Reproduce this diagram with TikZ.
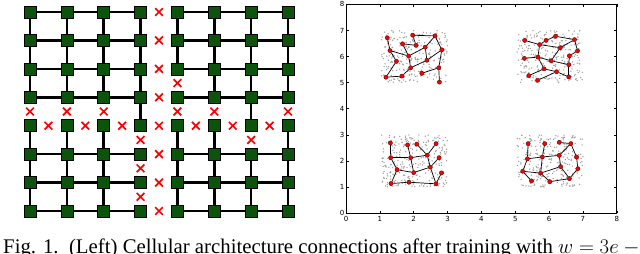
\documentclass[tikz,border=0pt]{standalone}
\usepackage{fontspec}
\setmainfont{Liberation Serif}
\newfontfamily\tickfont{DejaVu Sans}
\usepackage{tikz}
\usetikzlibrary{calc,shapes.misc}
\definecolor{cellgreen}{RGB}{12,84,12}
\tikzset{
  cellbox/.style={draw=black,fill=cellgreen,minimum size=12pt,inner sep=0pt,line width=0.6pt},
  cellwire/.style={line width=2.6pt,black},
  cutmark/.style={cross out,draw=red,minimum size=6pt,inner sep=0pt,line width=1.7pt},
  unitdot/.style={circle,fill=red,draw=red!35!black,inner sep=0pt,minimum size=4.2pt,line width=0.4pt},
  unitlink/.style={black,line width=0.7pt},
  ticklabel/.style={font=\tickfont\fontsize{7}{7}\selectfont,inner sep=1pt},
  captiontext/.style={font=\fontsize{20.8}{22}\selectfont,inner sep=0pt,anchor=base west}
}

\begin{document}
\begin{tikzpicture}[x=1pt,y=-1pt]
  \useasboundingbox (0,0) rectangle (640,254);
  % cellular grid (left)
  \foreach \i in {1,...,8}
    \foreach \j in {1,...,8}
      \node[cellbox] (c\i\j) at ({30+(\i-1)*36.86},{12+(\j-1)*28.43}) {};
  \foreach \j in {1,2,3,4,6,7,8}
    \foreach \i/\k in {1/2,2/3,3/4,5/6,6/7,7/8}
      \draw[cellwire] (c\i\j) -- (c\k\j);
  \foreach \i/\j [evaluate=\j as \k using int(\j+1)] in
      {1/1,2/1,3/1,4/1,1/2,2/2,3/2,4/2,1/3,2/3,3/3,4/3,4/4,
       1/5,2/5,3/5,1/6,2/6,3/6,1/7,2/7,3/7,
       5/1,6/1,7/1,8/1,5/2,6/2,7/2,8/2,6/3,7/3,8/3,7/4,
       5/5,6/5,8/5,5/6,6/6,7/6,8/6,5/7,6/7,7/7,8/7}
    \draw[cellwire] (c\i\j) -- (c\i\k);
  % pruned connections
  \foreach \j in {1,...,8}
    \node[cutmark] (mid\j) at ($(c4\j)!0.5!(c5\j)$) {};
  \foreach \i/\k in {1/2,2/3,3/4,5/6,6/7,7/8}
    \node[cutmark] (row\i) at ($(c\i5)!0.5!(c\k5)$) {};
  \foreach \i/\j [evaluate=\j as \k using int(\j+1)] in
      {1/4,2/4,3/4,4/5,4/6,4/7,5/3,5/4,6/4,8/4,7/5}
    \node[cutmark] (col\i\j) at ($(c\i\j)!0.5!(c\i\k)$) {};

  % scatter plot (right)
  \begin{scope}[shift={(346pt,-213pt)},x=33.85pt,y=26.07pt]
    \pgfmathsetseed{7}
    \foreach \cx/\cy in {1/5,5/5,1/1,5/1}
      \foreach \n in {1,...,260}
        \fill[gray!75] ({\cx+0.05+1.95*rnd},{\cy+2*rnd}) circle (0.75pt);
    \draw[line width=0.8pt] (0,0) rectangle (8,8);
    \foreach \t in {0,...,8} {
      \draw[line width=0.5pt] (\t,0) -- ++(0,2.5pt) (\t,8) -- ++(0,-2.5pt);
      \draw[line width=0.5pt] (0,\t) -- ++(2.5pt,0) (8,\t) -- ++(-2.5pt,0);
      \node[ticklabel,below=2.5pt] (xt\t) at (\t,0) {\t};
      \node[ticklabel,left=0.5pt] (yt\t) at (0,\t) {\t};
    }
    % top left cluster
    \foreach \u/\px/\py in {tla/1.22/6.72,tlb/1.97/6.82,tlc/2.63/6.79,tld/1.67/6.49,
        tle/2.07/6.43,tlf/2.34/6.36,tlg/1.30/6.23,tlh/2.83/6.26,tli/1.85/6.02,
        tlj/1.49/5.82,tlk/2.39/5.86,tll/1.91/5.57,tlm/2.74/5.57,tln/2.24/5.36,
        tlo/1.18/5.21,tlp/1.65/5.25,tlq/2.76/5.02}
      \node[unitdot] (\u) at (\px,\py) {};
    \foreach \a/\b in {tla/tlg,tlg/tlj,tlj/tlo,tlo/tlp,tlp/tll,tll/tli,tli/tld,
        tld/tle,tle/tlb,tlb/tlc,tlc/tlf,tlc/tlh,tlh/tlk,tlk/tlf,tlk/tll,tlg/tli,
        tlh/tlm,tlm/tlq,tlm/tln,tli/tlf}
      \draw[unitlink] (\a) -- (\b);
    % top right cluster
    \foreach \u/\px/\py in {tra/5.28/6.62,trb/5.72/6.46,trc/5.91/6.62,trd/6.19/6.78,
        tre/6.75/6.65,trf/6.33/6.34,trg/6.84/6.22,trh/5.27/5.93,tri/5.67/5.98,
        trj/6.60/6.03,trk/6.06/5.84,trl/6.58/5.69,trm/5.85/5.53,trn/6.22/5.42,
        tro/5.40/5.27,trp/5.66/5.09,trq/6.58/5.22}
      \node[unitdot] (\u) at (\px,\py) {};
    \foreach \a/\b in {tra/trb,trb/trc,trc/trd,trd/tre,tre/trg,trb/trf,trf/tre,
        trb/tri,trh/tri,tri/trk,trk/trl,trj/trg,trj/trl,tri/trm,trm/tro,trm/trn,
        trn/trp,trn/trq,trq/trl,trf/trk}
      \draw[unitlink] (\a) -- (\b);
    % bottom left cluster
    \foreach \u/\px/\py in {bla/1.31/2.69,blb/1.82/2.61,blc/2.09/2.64,bld/2.66/2.66,
        ble/1.32/2.12,blf/1.91/2.12,blg/2.40/2.22,blh/2.75/2.12,bli/1.51/1.66,
        blj/2.00/1.55,blk/2.49/1.76,bll/2.82/1.54,blm/1.33/1.13,bln/1.86/1.18,
        blo/2.66/1.12}
      \node[unitdot] (\u) at (\px,\py) {};
    \foreach \a/\b in {bla/ble,ble/blf,blb/blf,blf/blg,blc/blg,bld/blg,blg/blk,
        blh/blk,blk/blj,blj/blf,blj/bli,bli/ble,bli/blm,blm/bln,bln/blo,blo/blk,
        blo/bll}
      \draw[unitlink] (\a) -- (\b);
    % bottom right cluster
    \foreach \u/\px/\py in {bra/5.38/2.66,brb/5.87/2.66,brc/6.30/2.71,brd/6.64/2.66,
        bre/5.36/2.08,brf/5.80/2.15,brg/6.30/2.21,brh/6.81/2.15,bri/5.22/1.60,
        brj/5.75/1.53,brk/6.34/1.78,brl/6.85/1.70,brm/5.48/1.23,brn/6.02/1.20,
        bro/6.60/1.32}
      \node[unitdot] (\u) at (\px,\py) {};
    \foreach \a/\b in {bra/bre,bre/brf,brf/brb,brf/brg,brc/brd,brd/brg,brd/brh,
        brh/brl,brg/brk,brk/brj,brj/bri,bri/bre,bri/brm,brj/brn,brn/bro,bro/brl,
        bro/brk,brf/brj}
      \draw[unitlink] (\a) -- (\b);
  \end{scope}

  \node[captiontext] (caption) at (3,253)
    {Fig. 1.\ \ (Left) Cellular architecture connections after training with $w = 3e -{}$};
\end{tikzpicture}
\end{document}
